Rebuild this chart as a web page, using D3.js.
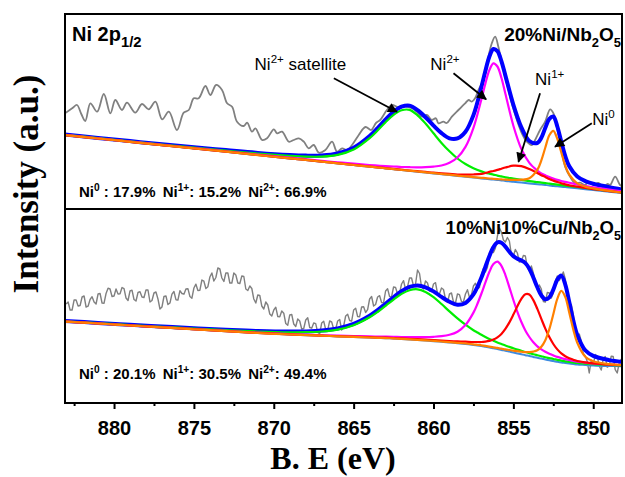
<!DOCTYPE html>
<html>
<head>
<meta charset="utf-8">
<script src="https://cdn.jsdelivr.net/npm/d3@7/dist/d3.min.js"></script>
<style>
  body { margin: 0; background: #fff; }
  svg { display: block; }
  text { font-family: Arial, "Liberation Sans", sans-serif; fill: #000; white-space: pre; }
</style>
</head>
<body>
<svg id="chart" width="625" height="477"></svg>
<script>
// x axis
const xTicks = [880, 875, 870, 865, 860, 855, 850];
const xMinorTicks = [882.5, 877.5, 872.5, 867.5, 862.5, 857.5, 852.5];

// ---- top panel: 20%Ni/Nb2O5 ----
const topRawE = [883.05, 882.6, 882.32, 882.05, 881.8, 881.48, 881.06, 880.64, 880.23, 879.92, 879.5, 879.19, 878.67, 878.25, 877.83, 877.41, 876.99, 876.57, 876.06, 875.64, 875.32, 875.01, 874.7, 874.28, 873.97, 873.61, 873.24, 872.92, 872.61, 872.3, 871.88, 871.67, 871.36, 871.15, 870.73, 870.42, 870.0, 869.79, 869.48, 869.06, 868.75, 868.43, 868.12, 867.81, 867.5, 867.18, 866.77, 866.35, 866.04, 865.72, 865.41, 865.1, 864.68, 864.26, 863.9, 863.6, 863.34, 862.92, 862.61, 862.2, 861.78, 861.36, 861.05, 860.73, 860.42, 860.11, 859.85, 859.69, 859.38, 859.17, 858.85, 858.44, 858.02, 857.8, 857.6, 857.4, 857.19, 856.98, 856.66, 856.35, 856.14, 855.94, 855.72, 855.52, 855.31, 855.1, 854.78, 854.47, 854.16, 853.84, 853.64, 853.33, 853.01, 852.7, 852.49, 852.28, 852.07, 851.76, 851.45, 851.13, 850.82, 850.51, 850.3, 849.99, 849.67, 849.36, 849.1, 848.94, 848.63, 848.32, 848.2];
const topRawI = [96, 101, 104, 95, 88, 105.7, 97.3, 115, 95.7, 109, 99, 106.3, 96.3, 105, 99.7, 107.3, 89.7, 97.3, 79, 96.3, 99, 110.7, 110.7, 123, 114, 124, 119, 105.7, 102.3, 87.3, 83, 86.3, 77.3, 80.7, 69, 70.7, 79.7, 75.7, 77.3, 67.3, 69, 70.7, 67.3, 60.7, 64, 56.3, 59, 67.3, 57.3, 60.7, 59, 64, 74, 82, 79, 86, 89, 99, 104, 101.7, 103, 100.7, 97.3, 92.3, 94, 89, 90.7, 85.7, 87.3, 86, 92.3, 99, 105.7, 109, 107.3, 110.7, 119, 125.7, 145.7, 165.7, 172.3, 162.3, 145.7, 132.3, 119, 105.7, 89, 75.7, 67.3, 64, 69, 79, 87.3, 99.7, 95.7, 82.3, 65.7, 42.3, 32.3, 25.7, 26.3, 24, 27.3, 24, 26, 22.3, 25, 24, 32.3, 24, 23];

const topE = [883.1, 881, 879, 877, 875, 873, 871, 869, 868, 867, 866, 865, 864, 863.5, 863, 862.5, 862, 861.5, 861, 860.5, 860, 859.5, 859, 858.5, 858, 857.5, 857, 856.75, 856.5, 856.25, 856, 855.75, 855.5, 855, 854.5, 854, 853.5, 853.25, 853, 852.75, 852.5, 852.25, 852, 851.75, 851.5, 851, 850.5, 850, 849, 848.2];
const topBackground = [74.0, 70.5, 67.2, 63.9, 60.6, 57.3, 53.9, 50.6, 49.0, 47.3, 45.6, 43.9, 42.3, 41.4, 40.6, 39.8, 38.9, 38.1, 37.3, 36.5, 35.6, 34.8, 34.0, 33.1, 32.3, 31.5, 30.6, 30.2, 29.8, 29.4, 29.0, 28.6, 28.1, 27.3, 26.5, 25.6, 24.8, 24.4, 24.0, 23.6, 23.1, 22.7, 22.3, 21.9, 21.5, 20.7, 19.8, 19.0, 17.3, 16.0];
const topSatellite = [74.3, 70.9, 67.7, 64.5, 61.4, 58.4, 55.5, 53.2, 52.4, 52.4, 54.1, 59.5, 70.9, 78.5, 86.8, 94.1, 98.7, 99.1, 93.7, 85.5, 75.7, 66.1, 57.7, 50.5, 45.0, 40.8, 37.6, 36.3, 35.3, 34.4, 33.4, 32.6, 31.7, 30.4, 29.1, 27.9, 26.9, 26.4, 25.9, 25.4, 24.8, 24.4, 23.8, 23.4, 22.9, 22.0, 21.0, 20.0, 18.2, 16.8];
const topNi2 = [74.2, 70.7, 67.4, 64.1, 60.9, 57.7, 54.4, 51.3, 49.8, 48.2, 46.7, 45.3, 44.0, 43.4, 42.9, 42.5, 42.0, 41.8, 41.7, 41.9, 42.4, 43.5, 46.2, 51.5, 62.1, 81.2, 109.9, 125.6, 139.0, 145.6, 142.5, 131.2, 115.2, 83.3, 60.0, 46.1, 38.4, 35.6, 33.7, 31.9, 30.4, 29.1, 28.0, 27.1, 26.2, 24.5, 22.9, 21.7, 19.4, 17.6];
const topNi1 = [74.0, 70.5, 67.2, 63.9, 60.6, 57.4, 54.0, 50.7, 49.1, 47.4, 45.8, 44.1, 42.5, 41.7, 40.9, 40.1, 39.3, 38.5, 37.8, 37.1, 36.3, 35.7, 35.1, 34.5, 34.3, 34.5, 35.1, 36.0, 37.1, 38.0, 39.1, 40.3, 41.5, 43.3, 42.8, 40.0, 36.0, 33.8, 32.1, 30.0, 28.4, 27.0, 25.8, 24.6, 23.7, 22.3, 21.0, 19.9, 17.9, 16.5];
const topNi0 = [74.0, 70.5, 67.2, 63.9, 60.6, 57.3, 53.9, 50.6, 49.1, 47.4, 45.7, 44.0, 42.4, 41.5, 40.7, 39.9, 39.0, 38.3, 37.5, 36.7, 35.8, 35.0, 34.3, 33.4, 32.7, 31.9, 31.2, 30.9, 30.5, 30.2, 29.9, 29.6, 29.3, 29.1, 29.3, 30.8, 39.1, 48.6, 61.5, 73.7, 78.2, 70.1, 56.5, 43.4, 34.4, 25.7, 22.4, 20.7, 18.2, 16.6];
const topEnvelope = [74.5, 71.1, 67.9, 64.7, 61.7, 58.9, 56.1, 54.0, 53.4, 53.5, 55.5, 61.2, 72.9, 80.9, 89.5, 97.2, 102.3, 103.4, 98.8, 91.7, 83.4, 75.9, 70.7, 70.6, 77.2, 93.9, 122.0, 138.2, 152.5, 160.0, 157.9, 147.9, 133.4, 104.2, 81.7, 68.0, 66.0, 71.2, 81.2, 90.2, 92.5, 82.5, 67.2, 52.8, 42.7, 32.4, 27.9, 25.3, 21.8, 19.5];

// ---- bottom panel: 10%Ni10%Cu/Nb2O5 ----
// raw counts every 0.125 eV starting at 883.0 eV
const bottomRawStart = 883.0, bottomRawStep = 0.125;
const bottomRawI = [99, 101, 93, 93, 103, 103, 97, 97.5, 106, 107, 96, 96.8, 103.5, 106.3, 101, 99,
  109, 109.5, 100, 99.8, 109.5, 114.8, 114, 106.5, 107, 114, 109, 109.3, 115.5, 114.3, 105, 102.5,
  112, 112.8, 103.5, 102, 110.5, 111.3, 106, 105.5, 113, 113, 101, 102.5, 110, 111, 104, 94,
  96, 106.5, 107, 98.5, 100, 108.8, 111.5, 103.3, 103, 112.3, 109.5, 108.8, 114, 114.3, 106.5, 104.8,
  115, 118.8, 112.5, 112.8, 123, 121.8, 114.5, 116.3, 126, 130, 122, 125.5, 135, 134, 125, 121.5,
  130, 130, 120, 120, 130, 128, 120, 119.5, 127, 126.5, 114, 112.5, 117, 114.5, 104, 100,
  108, 107.5, 97, 94, 101, 98, 89, 87, 93, 95.8, 86.5, 86.3, 92, 89.8, 79.5, 77.8,
  88, 88.5, 79, 76.5, 84, 82, 74, 74.5, 83, 85.3, 75.5, 74.8, 80, 79.3, 70.5, 69.3,
  80, 81.8, 73.5, 72.8, 82, 81, 74, 74, 82, 83.5, 73, 77, 87, 88.8, 82.5, 81.8,
  93, 94.8, 86.5, 86.3, 96, 96.3, 90.5, 93.3, 104, 106.5, 97, 98.5, 106, 107.3, 100.5, 100.3,
  112, 114.3, 106.5, 106.3, 116, 115.5, 109, 110, 119, 122.3, 113.5, 116.3, 125, 125, 117, 119,
  133, 129.5, 116, 114, 122, 120, 112, 111.5, 119, 120.3, 109.5, 109.3, 115, 113.5, 104, 100.5,
  109, 110, 101, 100, 109, 108.3, 101.5, 101.3, 109, 113.3, 105.5, 108.3, 117, 119.8, 114.5, 115.3,
  128, 134.5, 131, 135.5, 150, 153.3, 150.5, 154.8, 167, 175, 171, 163, 161, 165.5, 162, 148.5,
  147, 153.5, 150, 141, 142, 147.5, 147, 135.5, 132, 137, 130, 119, 114, 118, 114, 101.5,
  101, 110.5, 110, 105, 110, 121.5, 127, 122.5, 126, 131, 124, 109, 100, 98.5, 89, 71.5,
  66, 69, 62, 49.5, 47, 41.5, 30, 43, 38, 48.5, 47, 37, 33, 43.8, 46.5, 35.8,
  37, 46.8, 46.5, 33.3, 30, 40, 44];

const bottomE = [883.1, 881, 879, 877, 875, 873, 871, 869, 868, 867, 866, 865, 864, 863.5, 863, 862.5, 862, 861.5, 861, 860.5, 860, 859.5, 859, 858.5, 858, 857.5, 857.25, 857, 856.75, 856.5, 856.25, 856, 855.75, 855.5, 855.25, 855, 854.75, 854.5, 854.25, 854, 853.75, 853.5, 853.25, 853, 852.75, 852.5, 852.25, 852, 851.75, 851.5, 851.25, 851, 850.5, 850, 849, 848.2];
const bottomBackground = [81.5, 79.5, 77.5, 75.6, 73.7, 71.8, 70.0, 68.4, 67.8, 67.2, 66.6, 66.0, 65.4, 65.1, 64.8, 64.4, 64.0, 63.5, 63.0, 62.4, 61.8, 61.2, 60.5, 59.8, 59.0, 58.1, 57.6, 57.0, 56.3, 55.6, 54.8, 54.0, 53.1, 52.3, 51.4, 50.5, 49.6, 48.7, 47.8, 47.0, 46.1, 45.2, 44.4, 43.5, 42.7, 42.0, 41.2, 40.5, 40.0, 39.5, 39.0, 38.5, 38.0, 37.5, 37.0, 36.8];
const bottomSatellite = [81.8, 79.9, 78.0, 76.2, 74.5, 72.9, 71.5, 70.7, 70.8, 71.5, 73.4, 77.8, 85.7, 91.0, 97.2, 103.4, 109.1, 112.8, 113.7, 111.1, 105.9, 99.0, 91.6, 84.6, 78.3, 72.8, 70.5, 68.2, 66.1, 64.1, 62.3, 60.5, 59.0, 57.5, 56.1, 54.7, 53.4, 52.2, 51.0, 49.9, 48.8, 47.8, 46.8, 45.8, 44.9, 44.0, 43.2, 42.3, 41.7, 41.1, 40.5, 40.0, 39.4, 38.8, 38.1, 37.7];
const bottomNi2 = [81.6, 79.6, 77.6, 75.8, 73.9, 72.1, 70.3, 68.9, 68.3, 67.8, 67.4, 66.9, 66.6, 66.4, 66.3, 66.1, 66.0, 65.9, 65.9, 65.9, 66.2, 66.8, 68.2, 71.3, 78.0, 90.4, 99.2, 109.5, 120.6, 131.2, 138.9, 141.3, 137.2, 127.9, 115.7, 103.0, 91.2, 81.0, 72.6, 66.0, 60.7, 56.7, 53.7, 51.2, 49.2, 47.6, 46.1, 44.9, 43.9, 43.0, 42.1, 41.4, 40.4, 39.5, 38.5, 38.0];
const bottomNi1 = [81.5, 79.5, 77.6, 75.7, 73.8, 71.9, 70.1, 68.6, 68.0, 67.4, 66.9, 66.3, 65.8, 65.5, 65.3, 64.9, 64.6, 64.2, 63.8, 63.3, 62.8, 62.4, 62.0, 61.6, 61.3, 61.0, 61.0, 61.0, 61.4, 62.1, 63.4, 65.7, 69.1, 74.1, 80.6, 88.4, 96.7, 104.1, 108.8, 108.5, 102.9, 94.1, 84.1, 74.4, 65.9, 59.0, 53.6, 49.6, 46.8, 44.8, 43.3, 42.0, 40.6, 39.6, 38.4, 37.8];
const bottomNi0 = [81.5, 79.5, 77.5, 75.6, 73.7, 71.8, 70.0, 68.5, 67.9, 67.3, 66.7, 66.1, 65.5, 65.2, 64.9, 64.6, 64.2, 63.7, 63.2, 62.6, 62.1, 61.5, 60.9, 60.2, 59.5, 58.7, 58.2, 57.7, 57.1, 56.4, 55.7, 55.1, 54.3, 53.7, 53.0, 52.3, 51.8, 51.3, 50.9, 50.9, 51.4, 52.7, 56.2, 62.8, 73.8, 88.8, 104.1, 112.1, 106.0, 90.3, 73.6, 60.2, 46.3, 41.7, 38.9, 38.0];
const bottomEnvelope = [82.0, 80.1, 78.2, 76.5, 74.8, 73.3, 72.0, 71.4, 71.6, 72.4, 74.5, 79.1, 87.3, 92.8, 99.3, 105.8, 111.9, 116.1, 117.6, 115.7, 111.6, 106.1, 101.2, 98.3, 100.1, 108.6, 116.1, 125.4, 136.3, 147.0, 155.9, 160.6, 160.3, 156.3, 151.2, 146.9, 144.3, 142.5, 139.9, 134.3, 125.5, 115.7, 107.6, 103.7, 105.7, 113.4, 123.4, 127.4, 118.4, 100.7, 82.5, 68.1, 52.7, 47.1, 42.9, 41.1];

const W = 625, H = 477;
const margin = {left: 65, right: 3, top: 14, bottom: 74};
const split = 209;

const svg = d3.select('#chart');

const x = d3.scaleLinear().domain([883.07, 848.2]).range([margin.left, W - margin.right]);
const yTop = d3.scaleLinear().domain([0, 195]).range([split, margin.top]);
const yBot = d3.scaleLinear().domain([0, 194]).range([H - margin.bottom, split]);

const colors = {raw: '#808080', env: '#0000ff', bg: '#3d8be0', sat: '#00ee00', ni2: '#ff00ff', ni1: '#ff0000', ni0: '#ff8000'};

svg.append('defs').call(d => {
  d.append('clipPath').attr('id', 'clipTop').append('rect')
    .attr('x', margin.left).attr('y', margin.top).attr('width', W - margin.right - margin.left).attr('height', split - margin.top);
  d.append('clipPath').attr('id', 'clipBot').append('rect')
    .attr('x', margin.left).attr('y', split).attr('width', W - margin.right - margin.left).attr('height', H - margin.bottom - split);
  d.append('marker').attr('id', 'arrow').attr('viewBox', '0 0 10 10')
    .attr('refX', 9).attr('refY', 5).attr('markerWidth', 6.5).attr('markerHeight', 5.5)
    .attr('markerUnits', 'strokeWidth').attr('orient', 'auto')
    .append('path').attr('d', 'M0,0L10,5L0,10z').attr('fill', '#000');
});

function drawPanel(clip, y, rawE, rawI, rawCurve, rawWidth, E, series) {
  const g = svg.append('g').attr('clip-path', `url(#${clip})`);
  const raw = d3.line().x((d, i) => x(rawE[i])).y(d => y(d)).curve(rawCurve);
  g.append('path').attr('d', raw(rawI)).attr('fill', 'none')
    .attr('stroke', colors.raw).attr('stroke-width', rawWidth).attr('stroke-linejoin', 'round');
  const fit = d3.line().x((d, i) => x(E[i])).y(d => y(d)).curve(d3.curveCatmullRom);
  series.forEach(s => {
    g.append('path').attr('d', fit(s.values)).attr('fill', 'none')
      .attr('stroke', s.color).attr('stroke-width', s.width);
  });
}

drawPanel('clipTop', yTop, topRawE, topRawI, d3.curveCatmullRom, 1.8, topE, [
  {values: topEnvelope, color: colors.env, width: 4},
  {values: topBackground, color: colors.bg, width: 2},
  {values: topSatellite, color: colors.sat, width: 2.2},
  {values: topNi2, color: colors.ni2, width: 2.2},
  {values: topNi1, color: colors.ni1, width: 2.2},
  {values: topNi0, color: colors.ni0, width: 2.2}
]);

drawPanel('clipBot', yBot, bottomRawI.map((d, i) => bottomRawStart - i * bottomRawStep), bottomRawI, d3.curveLinear, 1.4, bottomE, [
  {values: bottomEnvelope, color: colors.env, width: 4},
  {values: bottomBackground, color: colors.bg, width: 2},
  {values: bottomSatellite, color: colors.sat, width: 2.2},
  {values: bottomNi2, color: colors.ni2, width: 2.2},
  {values: bottomNi1, color: colors.ni1, width: 2.2},
  {values: bottomNi0, color: colors.ni0, width: 2.2}
]);

// frame
svg.append('rect').attr('x', margin.left).attr('y', margin.top)
  .attr('width', W - margin.right - margin.left).attr('height', H - margin.bottom - margin.top)
  .attr('fill', 'none').attr('stroke', '#000').attr('stroke-width', 2);
svg.append('line').attr('x1', margin.left).attr('x2', W - margin.right)
  .attr('y1', split).attr('y2', split).attr('stroke', '#000').attr('stroke-width', 2);

// x axis
const xAxis = svg.append('g').attr('transform', `translate(0,${H - margin.bottom})`)
  .call(d3.axisBottom(x).tickValues(xTicks).tickSize(6).tickSizeOuter(0).tickPadding(12));
xAxis.select('.domain').remove();
xAxis.selectAll('.tick line').attr('stroke-width', 2);
xAxis.selectAll('.tick text').attr('font-size', 20).attr('font-weight', 'bold')
  .attr('font-family', 'Arial, "Liberation Sans", sans-serif');
svg.append('g').attr('transform', `translate(0,${H - margin.bottom})`)
  .call(d3.axisBottom(x).tickValues(xMinorTicks).tickSize(3).tickFormat(''))
  .call(g => g.select('.domain').remove())
  .selectAll('.tick line').attr('stroke-width', 2);

svg.append('text').attr('x', 333).attr('y', 469)
  .attr('text-anchor', 'middle').style('font-family', '"Liberation Serif", "Times New Roman", serif')
  .attr('font-weight', 'bold').attr('font-size', 32).text('B. E (eV)');
svg.append('text').attr('transform', 'translate(38,184) rotate(-90)')
  .attr('text-anchor', 'middle').style('font-family', '"Liberation Serif", "Times New Roman", serif')
  .attr('font-weight', 'bold').attr('font-size', 35).text('Intensity (a.u.)');

// rich text helper: parts = [text, 'sup' | 'sub' | undefined, dx]
function rich(sel, parts, size, scale) {
  let shift = 0;
  parts.forEach(([t, kind, dx]) => {
    const target = kind === 'sup' ? -0.4 * size : kind === 'sub' ? 0.3 * size : 0;
    sel.append('tspan').attr('dy', target - shift).attr('dx', dx || 0)
      .attr('font-size', kind ? size * (scale || 0.68) : size).text(t);
    shift = target;
  });
}

function label(xp, yp, parts, size, weight, anchor, scale) {
  const t = svg.append('text').attr('x', xp).attr('y', yp)
    .attr('font-size', size).attr('font-weight', weight || 'normal')
    .attr('text-anchor', anchor || 'start');
  rich(t, parts, size, scale);
  return t;
}

function arrow(y, e1, v1, e2, v2) {
  svg.append('line').attr('x1', x(e1)).attr('y1', y(v1)).attr('x2', x(e2)).attr('y2', y(v2))
    .attr('stroke', '#000').attr('stroke-width', 1.8).attr('marker-end', 'url(#arrow)');
}

// top panel labels
label(72, 41, [['Ni 2p'], ['1/2', 'sub']], 20, 'bold', 'start', 0.74);
label(W - margin.right - 1, 41, [['20%Ni/Nb'], ['2', 'sub'], ['O'], ['5', 'sub']], 19, 'bold', 'end');
label(x(871.2), yTop(139), [['Ni'], ['2+', 'sup'], [' satellite']], 17);
label(x(860.2), yTop(139), [['Ni'], ['2+', 'sup']], 17);
label(x(853.64), yTop(124), [['Ni'], ['1+', 'sup']], 17);
label(x(850.07), yTop(84), [['Ni'], ['0', 'sup']], 17);
arrow(yTop, 866.24, 130.7, 862.29, 97.3);
arrow(yTop, 858.75, 135.7, 856.71, 109.7);
arrow(yTop, 853.33, 115.7, 854.68, 47.3);
arrow(yTop, 850.09, 85.7, 852.39, 62.3);
label(79, 197, [['Ni'], ['0', 'sup'], [' : 17.9% '], ['Ni', null, 3], ['1+', 'sup'], [': 15.2% '], ['Ni', null, 3], ['2+', 'sup'], [': 66.9%']], 15, 'bold');

// bottom panel labels
label(W - margin.right - 1, 234, [['10%Ni10%Cu/Nb'], ['2', 'sub'], ['O'], ['5', 'sub']], 18.5, 'bold', 'end');
label(79, 379, [['Ni'], ['0', 'sup'], [' : 20.1% '], ['Ni', null, 3], ['1+', 'sup'], [': 30.5% '], ['Ni', null, 3], ['2+', 'sup'], [': 49.4%']], 15, 'bold');
</script>
</body>
</html>
